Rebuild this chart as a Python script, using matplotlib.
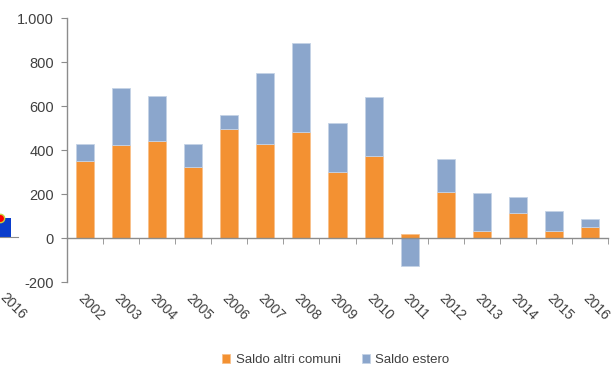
import matplotlib.pyplot as plt
import matplotlib.ticker as mticker
import matplotlib.transforms as mtransforms
import numpy as np

plt.rcParams['font.family'] = ['Liberation Sans', 'DejaVu Sans']

anni = ['2002', '2003', '2004', '2005', '2006', '2007', '2008', '2009',
        '2010', '2011', '2012', '2013', '2014', '2015', '2016']
saldo_altri_comuni = [348, 421, 439, 324, 494, 429, 483, 302,
                      374, 20, 210, 33, 112, 33, 50]
saldo_estero = [79, 262, 206, 103, 67, 319, 405, 222,
                267, -129, 150, 170, 73, 91, 38]

c_orange = '#F39132'
c_blue = '#8BA6CC'
c_axis = '#8C8C8C'
c_text = '#404040'

altri = np.array(saldo_altri_comuni)
estero = np.array(saldo_estero)
totale = altri + estero
x = np.arange(len(anni))

W, H = 616, 367
fig = plt.figure(figsize=(W / 100, H / 100), dpi=100)
ax_l, ax_w = 67 / W, 541 / W
ax_b, ax_h = 85 / H, 264 / H
shift = mtransforms.ScaledTranslation(7 / 100, 0, fig.dpi_scale_trans)

# pezzo del grafico precedente (saldo totale), quasi tutto fuori dal foglio
ax0 = fig.add_axes([(18 - 541) / W, ax_b + 1 / H, ax_w, ax_h])
ax0.bar(x, totale, width=0.6, color='#0A3DCC', zorder=2)
ax0.plot(x, totale, color='red', lw=1.5, marker='o', ms=6,
         mfc='red', mec='#C8D23C', mew=1, zorder=3)
ax0.set_xlim(-0.5, len(anni) - 0.5)
ax0.set_ylim(-200, 1000)
for s in ['top', 'right', 'left']:
    ax0.spines[s].set_visible(False)
ax0.spines['bottom'].set_position(('data', 0))
ax0.spines['bottom'].set_color(c_axis)
ax0.set_yticks([])
ax0.set_xticks(x[-1:])
ax0.set_xticklabels(anni[-1:], rotation=-45, ha='left', rotation_mode='anchor',
                    fontsize=10, color=c_text)
ax0.tick_params(axis='x', length=0, pad=38.5)
for lbl in ax0.get_xticklabels():
    lbl.set_transform(lbl.get_transform() + shift)

# grafico principale: saldi migratori
ax = fig.add_axes([ax_l, ax_b, ax_w, ax_h])
ax.bar(x, altri, width=0.5, color=c_orange, edgecolor='#F8C08A',
       linewidth=0.6, label='Saldo altri comuni', zorder=2)
ax.bar(x, estero, width=0.5, bottom=np.where(estero >= 0, altri, 0),
       color=c_blue, edgecolor='#C5D3E6', linewidth=0.6,
       label='Saldo estero', zorder=2)

ax.set_xlim(-0.5, len(anni) - 0.5)
ax.set_ylim(-200, 1000)
ax.set_yticks(range(-200, 1001, 200))
ax.yaxis.set_major_formatter(mticker.FuncFormatter(
    lambda v, p: f'{int(v):,}'.replace(',', '.')))

for s in ['top', 'right']:
    ax.spines[s].set_visible(False)
ax.spines['bottom'].set_position(('data', 0))
for s in ['bottom', 'left']:
    ax.spines[s].set_color(c_axis)
    ax.spines[s].set_linewidth(1)

ax.set_xticks(x)
ax.set_xticklabels(anni, rotation=-45, ha='left', rotation_mode='anchor',
                   fontsize=10, color=c_text)
for lbl in ax.get_xticklabels():
    lbl.set_transform(lbl.get_transform() + shift)
ax.set_xticks(np.arange(0.5, len(anni), 1), minor=True)
ax.tick_params(axis='x', which='major', length=0, pad=38.5)
ax.tick_params(axis='x', which='minor', length=4, color=c_axis, direction='out')
ax.tick_params(axis='y', length=4, color=c_axis, labelsize=10.5,
               labelcolor=c_text, pad=5.5)

fig.legend(loc='lower center', bbox_to_anchor=(0.545, -0.03), ncol=2,
           frameon=False, fontsize=9.5, handlelength=0.6, handleheight=0.6,
           handletextpad=0.4, columnspacing=1.6, labelcolor=c_text)

fig.savefig('out.png', dpi=100)
